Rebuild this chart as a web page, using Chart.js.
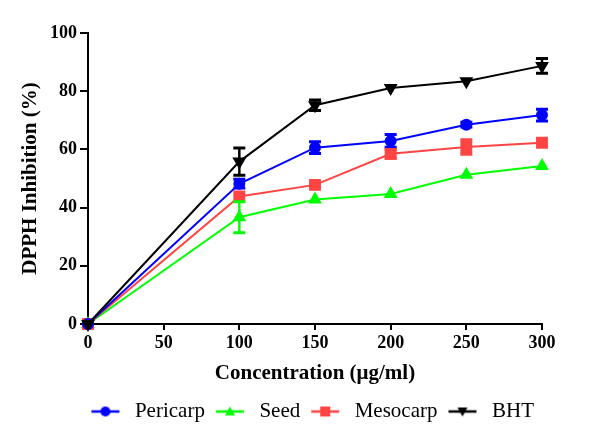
<!DOCTYPE html>
<html>
<head>
<meta charset="utf-8">
<script src="https://cdn.jsdelivr.net/npm/chart.js@4/dist/chart.umd.min.js"></script>
<style>
html,body{margin:0;padding:0;background:#fff;}
#wrap{width:600px;height:438px;}
</style>
</head>
<body>
<div id="wrap"><canvas id="c" width="600" height="438"></canvas></div>
<script>
const concentrations = [0, 100, 150, 200, 250, 300];
const pericarp = [0, 48.2, 60.6, 62.9, 68.5, 71.8];
const pericarpErr = [0, 1.5, 2.0, 2.2, 0.8, 2.0];
const seed = [0, 36.7, 42.8, 44.7, 51.3, 54.3];
const seedErr = [0, 5.3, 0, 0, 0, 0];
const mesocarp = [0, 43.8, 47.8, 58.5, 60.8, 62.3];
const mesocarpErr = [0, 0, 0, 1.5, 2.5, 0];
const bht = [0, 55.8, 75.2, 81.1, 83.4, 88.7];
const bhtErr = [0, 4.7, 1.8, 0, 0, 2.5];
const seriesNames = ['Pericarp', 'Seed', 'Mesocarp', 'BHT'];
const xTicks = [0, 50, 100, 150, 200, 250, 300];
const yTicks = [0, 20, 40, 60, 80, 100];

const SERIF = "'Liberation Serif', 'Times New Roman', serif";
Chart.defaults.color = '#000';
Chart.defaults.font.family = SERIF;

function toPts(vals){ return concentrations.map((x,i)=>({x:x, y:vals[i]})); }

function mkDs(label, vals, errs, color, style, radius, rot, order){
  return {
    label: label, data: toPts(vals), errors: errs,
    borderColor: color, backgroundColor: color,
    pointBackgroundColor: color, pointBorderColor: color,
    pointStyle: style, pointRadius: radius, pointRotation: rot,
    pointHoverRadius: radius, borderWidth: 2, tension: 0, clip: false,
    order: order
  };
}

const datasets = [
  mkDs(seriesNames[0], pericarp, pericarpErr, '#0000ff', 'circle', 5, 0, 2),
  mkDs(seriesNames[1], seed, seedErr, '#00ff00', 'triangle', 6, 0, 4),
  mkDs(seriesNames[2], mesocarp, mesocarpErr, '#ff4444', 'rect', 7, 0, 3),
  mkDs(seriesNames[3], bht, bhtErr, '#000000', 'triangle', 6, 180, 1)
];

function legendImage(ds){
  const cv = document.createElement('canvas');
  cv.width = 36; cv.height = 16;
  const g = cv.getContext('2d');
  g.strokeStyle = ds.borderColor; g.fillStyle = ds.borderColor; g.lineWidth = 2.5;
  g.beginPath(); g.moveTo(3, 8); g.lineTo(31, 8); g.stroke();
  const cx = 17, cy = 8;
  g.beginPath();
  if (ds.pointStyle === 'circle') { g.arc(cx, cy, 5, 0, Math.PI*2); }
  else if (ds.pointStyle === 'rect') { g.rect(cx-5, cy-5, 10, 10); }
  else if (ds.pointRotation === 180) { g.moveTo(cx-5, cy-4); g.lineTo(cx+5, cy-4); g.lineTo(cx, cy+5); g.closePath(); }
  else { g.moveTo(cx-5, cy+4); g.lineTo(cx+5, cy+4); g.lineTo(cx, cy-5); g.closePath(); }
  g.fill();
  return cv;
}

const errorBars = {
  id: 'errorBars',
  afterDatasetsDraw(chart){
    const ctx = chart.ctx, xs = chart.scales.x, ys = chart.scales.y;
    ctx.save();
    chart.data.datasets.forEach(ds => {
      ctx.strokeStyle = ds.borderColor;
      ds.data.forEach((p, i) => {
        const e = ds.errors[i];
        if (!e) return;
        const px = xs.getPixelForValue(p.x);
        const top = ys.getPixelForValue(p.y + e), bot = ys.getPixelForValue(p.y - e);
        ctx.lineWidth = 2.5;
        ctx.beginPath(); ctx.moveTo(px, top); ctx.lineTo(px, bot); ctx.stroke();
        ctx.lineWidth = 3;
        ctx.beginPath();
        ctx.moveTo(px-6, top); ctx.lineTo(px+6, top);
        ctx.moveTo(px-6, bot); ctx.lineTo(px+6, bot);
        ctx.stroke();
      });
    });
    ctx.restore();
  }
};

new Chart(document.getElementById('c'), {
  type: 'line',
  data: { datasets: datasets },
  plugins: [errorBars],
  options: {
    responsive: false,
    animation: false,
    layout: { padding: { left: 0, right: 58, top: 33, bottom: 6 } },
    plugins: {
      tooltip: { enabled: false },
      legend: {
        position: 'bottom',
        align: 'end',
        labels: {
          usePointStyle: true,
          pointStyleWidth: 36,
          padding: 8,
          font: { family: SERIF, size: 21 },
          color: '#000',
          generateLabels(chart){
            return chart.data.datasets.map((ds, i) => ({
              text: ds.label, pointStyle: legendImage(ds), datasetIndex: i,
              fillStyle: ds.borderColor, strokeStyle: ds.borderColor, lineWidth: 0, hidden: false
            }));
          }
        }
      }
    },
    scales: {
      x: {
        type: 'linear', min: 0, max: 300,
        afterBuildTicks(s){ s.ticks = xTicks.map(v => ({value: v})); },
        afterFit(s){ s.height = 69; },
        border: { display: true, color: '#000', width: 2 },
        grid: { drawOnChartArea: false, drawTicks: true, tickLength: 6, color: '#000', lineWidth: 2 },
        ticks: { font: { family: SERIF, size: 18, weight: 'bold' }, color: '#000', padding: 3, maxRotation: 0 },
        title: { display: true, text: 'Concentration (μg/ml)', font: { family: SERIF, size: 21, weight: 'bold' }, color: '#000', padding: { top: 0, bottom: 7 } }
      },
      y: {
        type: 'linear', min: 0, max: 100,
        afterBuildTicks(s){ s.ticks = yTicks.map(v => ({value: v})); },
        afterFit(s){ s.width = 88; },
        border: { display: true, color: '#000', width: 2 },
        grid: { drawOnChartArea: false, drawTicks: true, tickLength: 8, color: '#000', lineWidth: 2 },
        ticks: { font: { family: SERIF, size: 18, weight: 'bold' }, color: '#000', padding: 3 },
        title: { display: true, text: 'DPPH Inhibition (%)', font: { family: SERIF, size: 21, weight: 'bold' }, color: '#000', padding: { top: 18, bottom: 0 } }
      }
    }
  }
});
</script>
</body>
</html>
